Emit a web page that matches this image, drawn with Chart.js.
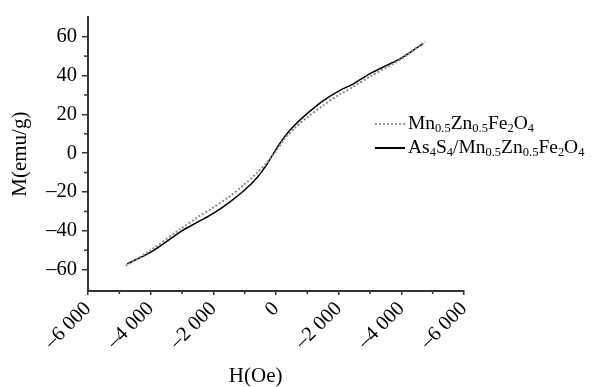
<!DOCTYPE html>
<html><head><meta charset="utf-8">
<script src="https://cdn.jsdelivr.net/npm/chart.js@4.4.1/dist/chart.umd.min.js"></script>
<style>
html,body{margin:0;padding:0;background:#fff;}
#wrap{position:relative;width:594px;height:387px;}
#legend{position:absolute;left:375px;top:112px;font-family:"Liberation Serif",serif;font-size:19.5px;color:#000;line-height:22px;}
.row{display:flex;align-items:center;white-space:nowrap;}
.sw{width:30px;height:0;margin-right:3px;}
.dot{border-top:2px dotted #9a9a9a;}
.sol{border-top:2px solid #000;}
sub{font-size:64%;vertical-align:baseline;position:relative;top:0.28em;}
</style></head>
<body><div id="wrap"><canvas id="c" width="594" height="387"></canvas>
<div id="legend">
<div class="row"><div class="sw dot"></div><span>Mn<sub>0.5</sub>Zn<sub>0.5</sub>Fe<sub>2</sub>O<sub>4</sub></span></div>
<div class="row"><div class="sw sol"></div><span>As<sub>4</sub>S<sub>4</sub>/Mn<sub>0.5</sub>Zn<sub>0.5</sub>Fe<sub>2</sub>O<sub>4</sub></span></div>
</div></div>
<script>
const hPure = [-4800,-4000,-3000,-2500,-2000,-1500,-1000,-600,-300,0,300,600,1000,1500,2000,2500,3000,3500,4000,4750];
const mPure = [-58,-50,-38.5,-33,-28,-22.5,-16,-10,-5,1,8,13,18.5,24.5,30,34.5,39.5,44,48.5,57.5];
const hComp = [-4750,-4000,-3000,-2500,-2000,-1500,-1000,-600,-300,0,300,600,1000,1500,2000,2500,3000,3500,4000,4700];
const mComp = [-57,-51,-40,-35.5,-31,-25.5,-19,-12.5,-6,2,9,14.5,20.5,27,32,36,41,45,49,56.5];
const xTickValues = [-6000,-4000,-2000,0,2000,4000,6000];
const xTickLabels = ['\u20136 000','\u20134 000','\u20132 000','0','\u20132 000','\u20134 000','\u20136 000'];
const yTickValues = [-60,-40,-20,0,20,40,60];
const yTickLabels = ['\u201360','\u201340','\u201320','0','20','40','60'];
const xMinorTicks = [-5000,-3000,-1000,1000,3000,5000];
const yMinorTicks = [-50,-30,-10,10,30,50];
const seriesNames = ['Mn0.5Zn0.5Fe2O4','As4S4/Mn0.5Zn0.5Fe2O4'];
const xTitle = 'H(Oe)';
const yTitle = 'M(emu/g)';

const FONT = '"Liberation Serif", serif';
const minorPlugin = {
  id:'minor',
  afterDraw(chart){
    const ctx = chart.ctx, xs = chart.scales.x, ys = chart.scales.y;
    const a = chart.chartArea;
    ctx.save();
    ctx.strokeStyle = '#333'; ctx.lineWidth = 1.5;
    xMinorTicks.forEach(v=>{const p = xs.getPixelForValue(v); ctx.beginPath(); ctx.moveTo(p,a.bottom); ctx.lineTo(p,a.bottom+3); ctx.stroke();});
    yMinorTicks.forEach(v=>{const p = ys.getPixelForValue(v); ctx.beginPath(); ctx.moveTo(a.left,p); ctx.lineTo(a.left-4,p); ctx.stroke();});
    // x axis title, placed slightly left of centre as in the reference
    ctx.fillStyle = '#000';
    ctx.font = '21px ' + FONT;
    ctx.textAlign = 'center'; ctx.textBaseline = 'middle';
    ctx.fillText(xTitle, xs.getPixelForValue(-650), chart.height - 11);
    ctx.restore();
  }
};

new Chart(document.getElementById('c'), {
  type:'line',
  data:{datasets:[
    {label:seriesNames[0], data:hPure.map((h,i)=>({x:h,y:mPure[i]})), borderColor:'#8a8a8a', borderWidth:2, borderDash:[2,2], pointRadius:0, tension:0.3, fill:false},
    {label:seriesNames[1], data:hComp.map((h,i)=>({x:h,y:mComp[i]})), borderColor:'#000', borderWidth:1.5, pointRadius:0, tension:0.3, fill:false}
  ]},
  options:{
    responsive:false, animation:false,
    layout:{padding:{left:0,right:130,top:12,bottom:0}},
    plugins:{legend:{display:false}, tooltip:{enabled:false}},
    scales:{
      x:{type:'linear', min:-6000, max:6000,
        afterBuildTicks(s){ s.ticks = xTickValues.map(v=>({value:v})); },
        afterFit(s){ s.height = 96; },
        grid:{drawOnChartArea:false, drawTicks:true, tickLength:4, color:'#333', lineWidth:1.5},
        border:{color:'#333', width:2},
        ticks:{autoSkip:false, minRotation:45, maxRotation:45, padding:2, color:'#000', font:{family:FONT,size:20.5},
          callback(v){ const i = xTickValues.indexOf(v); return i>=0 ? xTickLabels[i] : ''; }},
        title:{display:false}
      },
      y:{type:'linear', min:-71, max:70,
        afterBuildTicks(s){ s.ticks = yTickValues.map(v=>({value:v})); },
        afterFit(s){ s.width = 88; },
        grid:{drawOnChartArea:false, drawTicks:true, tickLength:6, color:'#333', lineWidth:1.5},
        border:{color:'#333', width:2},
        ticks:{padding:5, color:'#000', font:{family:FONT,size:20.5},
          callback(v){ const i = yTickValues.indexOf(v); return i>=0 ? yTickLabels[i] : ''; }},
        title:{display:true, text:yTitle, color:'#000', font:{family:FONT,size:21}, padding:{top:8,bottom:0}}
      }
    }
  },
  plugins:[minorPlugin]
});
</script></body></html>
